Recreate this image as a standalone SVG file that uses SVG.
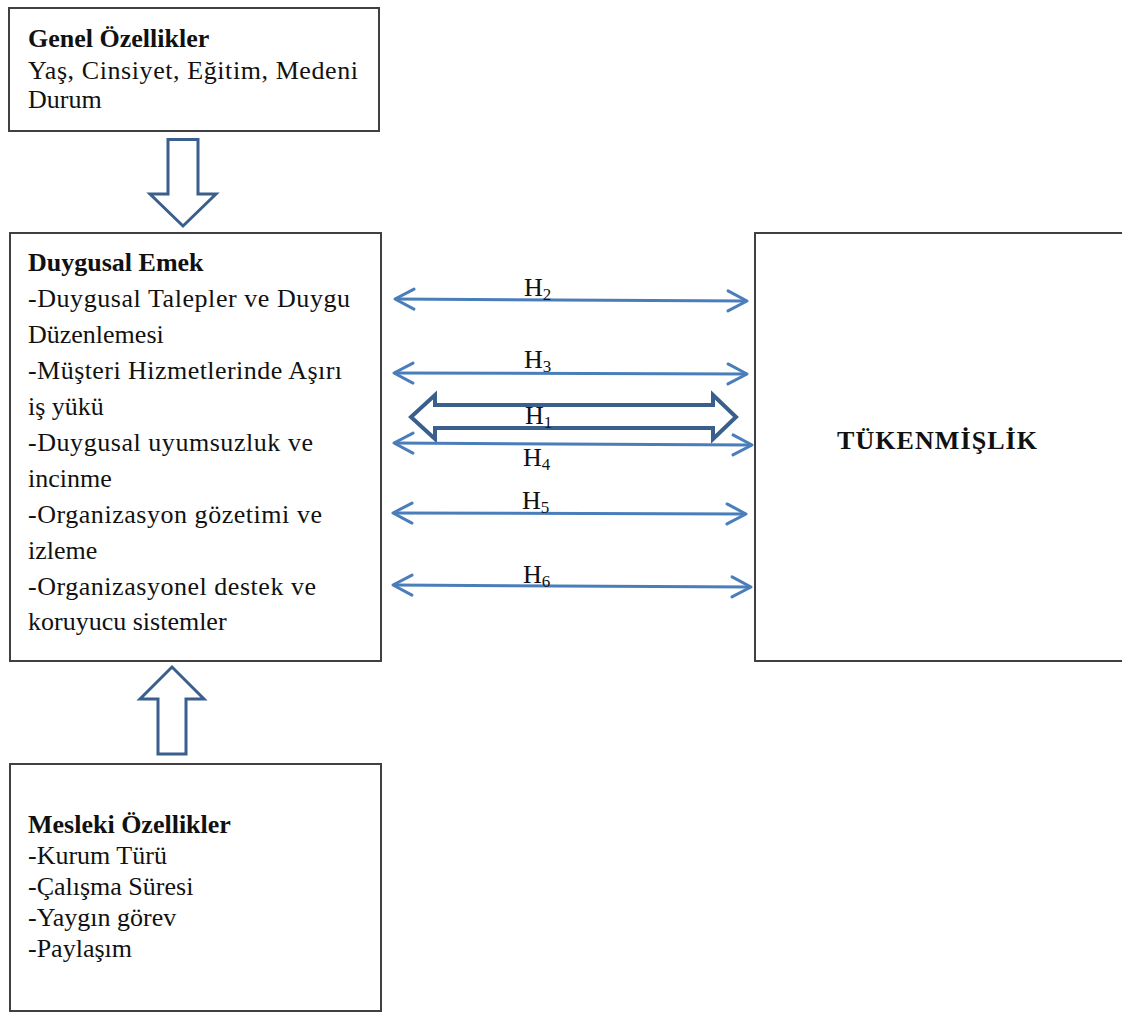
<svg xmlns="http://www.w3.org/2000/svg" width="1122" height="1014" viewBox="0 0 1122 1014">
<style>
.box{fill:#fff;stroke:#404040;stroke-width:2}
.t{font-family:"Liberation Serif","Times New Roman",serif;font-size:26px;fill:#111}
.b{font-weight:bold}
.h{font-family:"Liberation Serif","Times New Roman",serif;font-size:26px;fill:#111}
.sub{font-size:17px}
.thin{fill:none;stroke:#4a7ebb;stroke-width:3;marker-start:url(#chev);marker-end:url(#chev)}
.block{fill:#fff;stroke:#3a5f8c;stroke-width:4;stroke-linejoin:miter}
.blockv{fill:#fff;stroke:#3a5f8c;stroke-width:3;stroke-linejoin:miter}
</style>
<defs>
<marker id="chev" viewBox="-22 -12 24 24" refX="0" refY="0" markerWidth="24" markerHeight="24" markerUnits="userSpaceOnUse" orient="auto-start-reverse" overflow="visible">
<path d="M-19,-10 L0,0 L-19,10" fill="none" stroke="#4a7ebb" stroke-width="3" stroke-linecap="round" stroke-linejoin="round"/>
</marker>
</defs>
<rect width="1122" height="1014" fill="#fff"/>

<g id="genel">
<rect class="box" x="9" y="8" width="370" height="123"/>
<text class="t b" x="28" y="47">Genel Özellikler</text>
<text class="t" x="28" y="79" textLength="330" lengthAdjust="spacing">Yaş, Cinsiyet, Eğitim, Medeni</text>
<text class="t" x="28" y="108">Durum</text>
</g>

<g id="duygusal">
<rect class="box" x="10" y="233" width="371" height="428"/>
<text class="t b" x="28" y="271">Duygusal Emek</text>
<text class="t" x="28" y="307" textLength="322" lengthAdjust="spacing">-Duygusal Talepler ve Duygu</text>
<text class="t" x="28" y="343">Düzenlemesi</text>
<text class="t" x="28" y="379" textLength="314" lengthAdjust="spacing">-Müşteri Hizmetlerinde Aşırı</text>
<text class="t" x="28" y="415">iş yükü</text>
<text class="t" x="28" y="451" textLength="285" lengthAdjust="spacing">-Duygusal uyumsuzluk ve</text>
<text class="t" x="28" y="487">incinme</text>
<text class="t" x="28" y="523" textLength="294" lengthAdjust="spacing">-Organizasyon gözetimi ve</text>
<text class="t" x="28" y="559">izleme</text>
<text class="t" x="28" y="595" textLength="288" lengthAdjust="spacing">-Organizasyonel destek ve</text>
<text class="t" x="28" y="630">koruyucu sistemler</text>
</g>

<g id="mesleki">
<rect class="box" x="10" y="764" width="371" height="247"/>
<text class="t b" x="28" y="833">Mesleki Özellikler</text>
<text class="t" x="28" y="864">-Kurum Türü</text>
<text class="t" x="28" y="895">-Çalışma Süresi</text>
<text class="t" x="28" y="926">-Yaygın görev</text>
<text class="t" x="28" y="957">-Paylaşım</text>
</g>

<g id="tukenmislik">
<rect class="box" x="755" y="233" width="380" height="428"/>
<text class="t b" x="837" y="449" font-size="27" textLength="200" lengthAdjust="spacing">TÜKENMİŞLİK</text>
</g>

<g id="connectors">
<path id="arrow-down" class="blockv" d="M168,139.5 L198,139.5 L198,194 L216,194 L183,226 L150,194 L168,194 Z"/>
<path id="arrow-up" class="blockv" d="M158,754 L186,754 L186,699 L204,699 L172,667 L140,699 L158,699 Z"/>
<path id="h1-arrow" class="block" d="M411,417 L435,395 L435,405 L713,405 L713,395 L736,417 L713,439 L713,428 L435,428 L435,439 Z"/>
<path id="h2" class="thin" d="M395,299 L747,301"/>
<path id="h3" class="thin" d="M394,373 L747,374"/>
<path id="h4" class="thin" d="M394,443 L752,445"/>
<path id="h5" class="thin" d="M393,513 L746,514"/>
<path id="h6" class="thin" d="M393,585 L751,587"/>
<text class="h" x="524" y="296">H<tspan class="sub" dy="4">2</tspan></text>
<text class="h" x="524" y="368">H<tspan class="sub" dy="4">3</tspan></text>
<text class="h" x="525" y="424">H<tspan class="sub" dy="4">1</tspan></text>
<text class="h" x="523" y="466">H<tspan class="sub" dy="4">4</tspan></text>
<text class="h" x="522" y="509">H<tspan class="sub" dy="4">5</tspan></text>
<text class="h" x="523" y="583">H<tspan class="sub" dy="4">6</tspan></text>
</g>
</svg>
